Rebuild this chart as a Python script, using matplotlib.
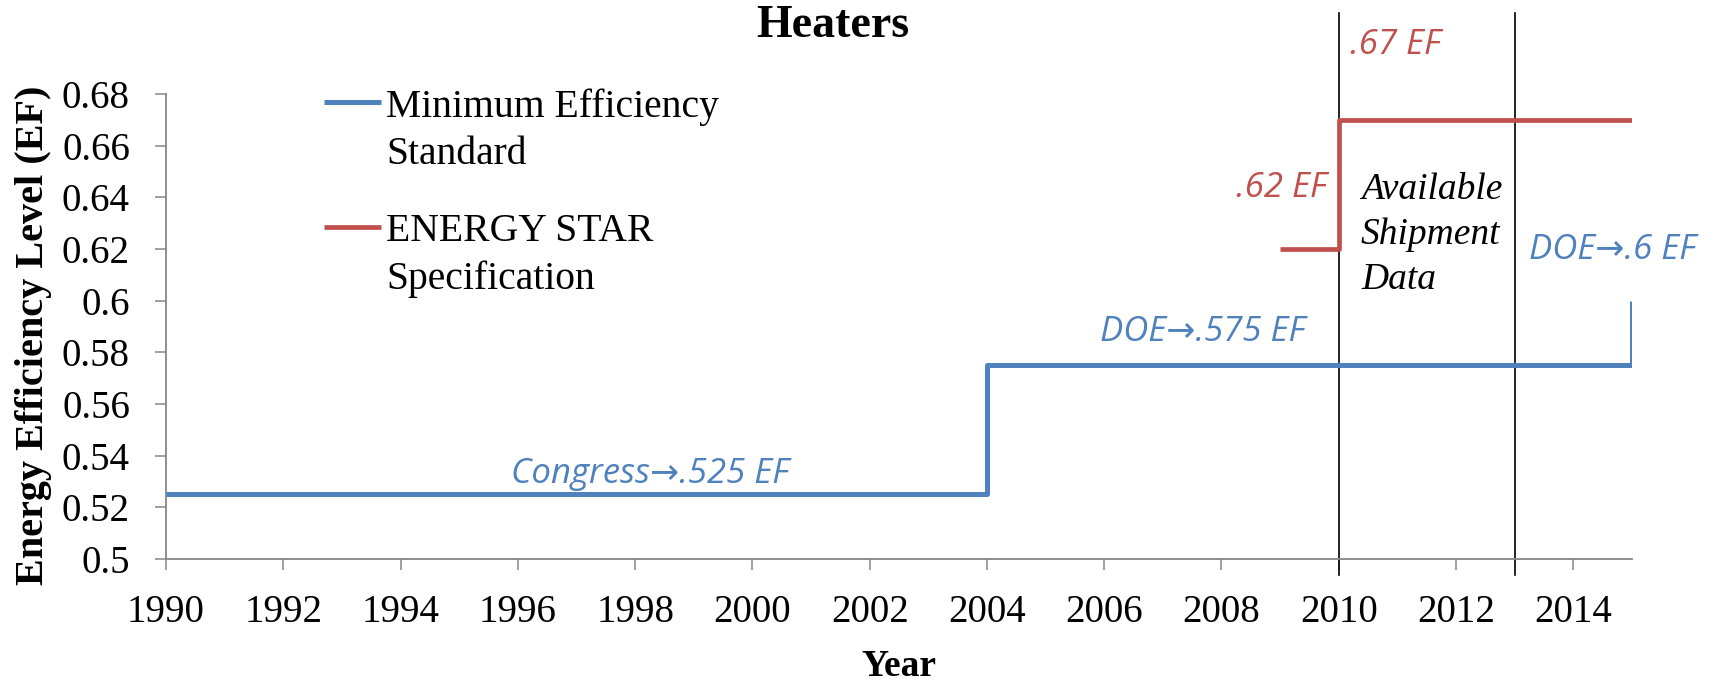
"""
Heaters: minimum efficiency standard vs. ENERGY STAR specification over time.
Step lines drawn from small year/level lists; writes out.png.
"""

import matplotlib

matplotlib.use("Agg")
import matplotlib.pyplot as plt
from matplotlib.ticker import FuncFormatter

# --- data ---
min_years = [1990, 2004, 2015]
min_levels = [0.525, 0.575, 0.600]

star_years = [2009, 2010, 2015]
star_levels = [0.62, 0.67, 0.67]

shipment_years = [2010, 2013]  # window with available shipment data

x_ticks = list(range(1990, 2015, 2))
y_ticks = [0.50, 0.52, 0.54, 0.56, 0.58, 0.60, 0.62, 0.64, 0.66, 0.68]

BLUE = "#4F81BD"
RED = "#C0504D"
AXIS_GREY = "#868686"
SERIF = ["Liberation Serif", "DejaVu Serif"]
SANS = ["Open Sans", "DejaVu Sans"]

plt.rcParams["font.family"] = SERIF


def main() -> None:
    fig = plt.figure(figsize=(17.35, 6.84), dpi=100)
    ax = fig.add_axes([0.0957, 0.1827, 0.8449, 0.6798])

    ax.plot(min_years, min_levels, drawstyle="steps-post", color=BLUE, lw=3.6,
            solid_capstyle="butt", label="Minimum Efficiency\nStandard", zorder=3)
    ax.plot(star_years, star_levels, drawstyle="steps-post", color=RED, lw=3.4,
            solid_capstyle="butt", label="ENERGY STAR\nSpecification", zorder=3)

    # vertical markers bounding the shipment-data window, poking out of the axes
    for yr in shipment_years:
        ax.plot([yr, yr], [0.4938, 0.7114], color="black", lw=1.2, clip_on=False, zorder=2)

    ax.set_xlim(1990, 2015)
    ax.set_ylim(0.5, 0.68)
    ax.set_xticks(x_ticks)
    ax.set_yticks(y_ticks)
    ax.yaxis.set_major_formatter(FuncFormatter(lambda v, _: f"{v:g}"))

    for side in ("top", "right"):
        ax.spines[side].set_visible(False)
    for side in ("left", "bottom"):
        ax.spines[side].set_color(AXIS_GREY)
        ax.spines[side].set_linewidth(1.3)
    ax.tick_params(axis="both", direction="out", length=8, width=1.1, color=AXIS_GREY,
                   labelsize=28)
    ax.tick_params(axis="y", pad=18)
    ax.tick_params(axis="x", pad=17)

    ax.set_ylabel("Energy Efficiency Level (EF)", fontsize=29, fontweight="bold")
    ax.yaxis.set_label_coords(-0.0907, 0.482)
    ax.yaxis.label.set_va("center")
    ax.set_xlabel("Year", fontsize=27, fontweight="bold")
    ax.xaxis.set_label_coords(0.5, -0.232)
    ax.xaxis.label.set_va("center")

    fig.text(0.48, 0.962, "Heaters", fontsize=33, fontweight="bold",
             ha="center", va="center")

    leg = ax.legend(loc="upper left", bbox_to_anchor=(324 / 1735, 1 - 88 / 684),
                    bbox_transform=fig.transFigure, frameon=False, fontsize=28.5,
                    handlelength=1.45, handletextpad=0.12, labelspacing=1.02,
                    borderpad=0, borderaxespad=0)
    for t in leg.get_texts():
        t.set_linespacing(1.37)
    # keep each handle level with the first line of its two-line label
    for column in leg._legend_handle_box.get_children():
        for row in column.get_children():
            row.align = "top"

    note = dict(fontsize=25, style="italic", family=SANS)
    ax.text(1998.25, 0.533, "Congress\u2192.525 EF", color=BLUE, ha="center", va="center", **note)
    ax.text(2007.68, 0.588, "DOE\u2192.575 EF", color=BLUE, ha="center", va="center", **note)
    ax.text(2013.25, 0.6195, "DOE\u2192.6 EF", color=BLUE, ha="left", va="center", **note)
    ax.text(2009.8, 0.6438, ".62 EF", color=RED, ha="right", va="center", **note)
    ax.text(2010.19, 0.699, ".67 EF", color=RED, ha="left", va="center", **note)
    ax.text(2010.38, 0.6255, "Available\nShipment\nData", fontsize=27, style="italic",
            ha="left", va="center", linespacing=1.4)

    fig.savefig("out.png", dpi=100)


if __name__ == "__main__":
    main()
